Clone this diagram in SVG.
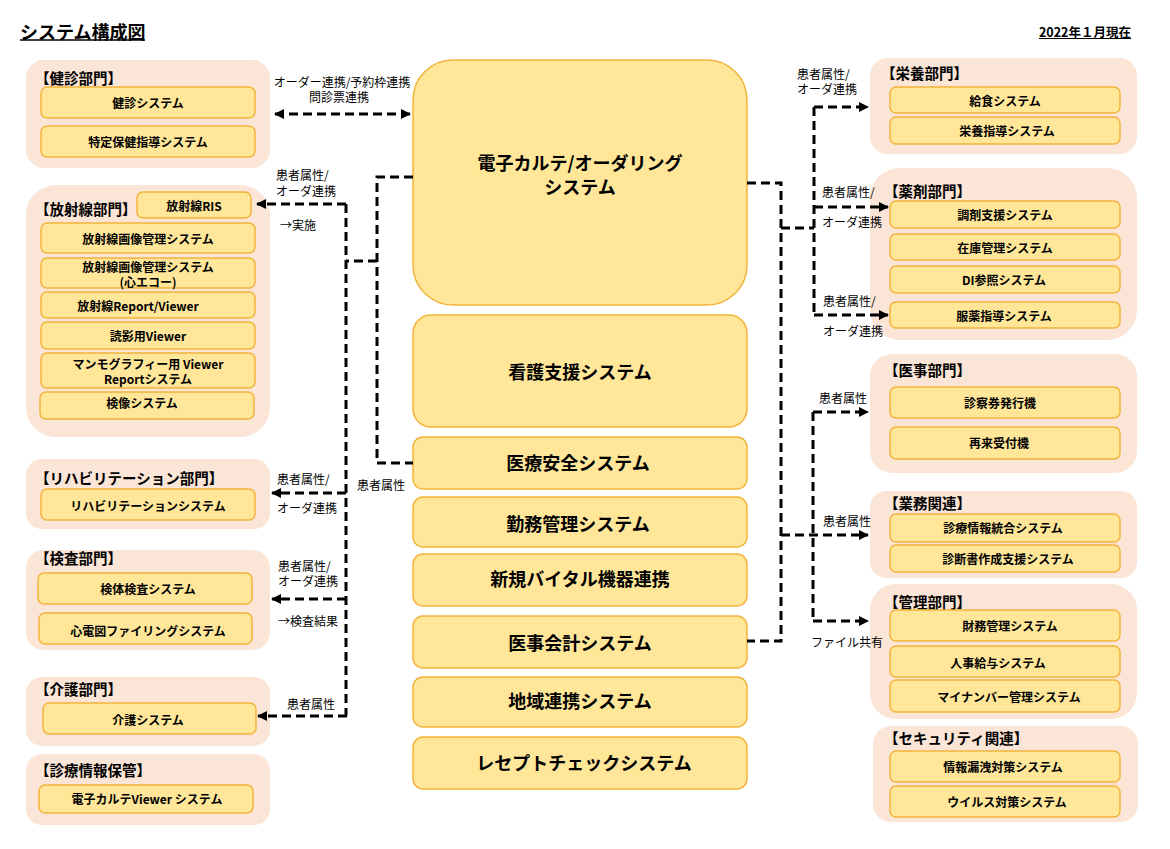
<svg xmlns="http://www.w3.org/2000/svg" width="1170" height="849" viewBox="0 0 1170 849">
<style>
text{font-family:"Noto Sans CJK JP","Noto Sans",sans-serif;fill:#000}
.grp{fill:#fbe5d6}
.box{fill:#ffe699;stroke:#f2b43c;stroke-width:1.5}
.bt{font-size:12px;font-weight:bold;text-anchor:middle;dominant-baseline:central}
.ct{font-size:18px;font-weight:bold;text-anchor:middle;dominant-baseline:central}
.gl{font-size:14.5px;font-weight:bold;dominant-baseline:central}
.cl{font-size:12px;dominant-baseline:central}
.cn{fill:none;stroke:#000;stroke-width:3;stroke-dasharray:9 5}
.ar{marker-end:url(#ah)}
</style>
<defs>
<marker id="ah" viewBox="0 0 10 10" refX="9" refY="5" markerWidth="10" markerHeight="10" markerUnits="userSpaceOnUse" orient="auto-start-reverse">
<path d="M0,0 L10,5 L0,10 z" fill="#000"/>
</marker>
</defs>
<rect width="1170" height="849" fill="#fff"/>

<g id="title">
<text x="20" y="31" style="font-size:18px;font-weight:bold;dominant-baseline:central">システム構成図</text>
<line x1="20" y1="40" x2="145" y2="40" stroke="#000" stroke-width="1.5"/>
<text x="1131" y="31" style="font-size:12.5px;font-weight:bold;text-anchor:end;dominant-baseline:central">2022年１月現在</text>
<line x1="1039" y1="38.5" x2="1131" y2="38.5" stroke="#000" stroke-width="1"/>
</g>

<!-- Left groups -->
<g id="g-kenshin">
<rect class="grp" x="26" y="60" width="244" height="108" rx="18"/>
<text class="gl" x="35" y="77">【健診部門】</text>
<rect class="box" x="41" y="87" width="214" height="31" rx="6"/>
<text class="bt" x="148" y="102.5">健診システム</text>
<rect class="box" x="41" y="126" width="214" height="31" rx="6"/>
<text class="bt" x="148" y="141.5">特定保健指導システム</text>
</g>

<g id="g-housha">
<rect class="grp" x="26" y="185" width="244" height="252" rx="30"/>
<text class="gl" x="35" y="208">【放射線部門】</text>
<rect class="box" x="137" y="192" width="114" height="26" rx="6"/>
<text class="bt" x="194" y="205">放射線RIS</text>
<rect class="box" x="41" y="223" width="214" height="30" rx="6"/>
<text class="bt" x="148" y="238">放射線画像管理システム</text>
<rect class="box" x="41" y="258" width="214" height="30" rx="6"/>
<text class="bt" x="148" y="266">放射線画像管理システム</text>
<text class="bt" x="148" y="281">(心エコー)</text>
<rect class="box" x="41" y="292" width="214" height="26" rx="6"/>
<text class="bt" x="138" y="305">放射線Report/Viewer</text>
<rect class="box" x="41" y="322" width="214" height="27" rx="6"/>
<text class="bt" x="148" y="335">読影用Viewer</text>
<rect class="box" x="41" y="353" width="214" height="35" rx="6"/>
<text class="bt" x="148" y="363">マンモグラフィー用 Viewer</text>
<text class="bt" x="148" y="378">Reportシステム</text>
<rect class="box" x="40" y="392" width="214" height="27" rx="6"/>
<text class="bt" x="142" y="402">検像システム</text>
</g>

<g id="g-reha">
<rect class="grp" x="26" y="459" width="244" height="70" rx="16"/>
<text class="gl" x="35" y="477">【リハビリテーション部門】</text>
<rect class="box" x="41" y="489" width="214" height="31" rx="6"/>
<text class="bt" x="148" y="505">リハビリテーションシステム</text>
</g>

<g id="g-kensa">
<rect class="grp" x="26" y="550" width="244" height="100" rx="18"/>
<text class="gl" x="35" y="557">【検査部門】</text>
<rect class="box" x="38" y="573" width="214" height="31" rx="6"/>
<text class="bt" x="148" y="588">検体検査システム</text>
<rect class="box" x="39" y="613" width="213" height="31" rx="6"/>
<text class="bt" x="148" y="630">心電図ファイリングシステム</text>
</g>

<g id="g-kaigo">
<rect class="grp" x="26" y="677" width="244" height="69" rx="16"/>
<text class="gl" x="35" y="688">【介護部門】</text>
<rect class="box" x="43" y="703" width="213" height="31" rx="6"/>
<text class="bt" x="148" y="719">介護システム</text>
</g>

<g id="g-hokan">
<rect class="grp" x="26" y="754" width="244" height="71" rx="16"/>
<text class="gl" x="35" y="769">【診療情報保管】</text>
<rect class="box" x="39" y="785" width="214" height="28" rx="6"/>
<text class="bt" x="147" y="798">電子カルテViewer システム</text>
</g>

<!-- Center -->
<g id="n-karte">
<rect class="box" x="413" y="60" width="334" height="245" rx="40"/>
<text class="ct" x="580" y="162">電子カルテ/オーダリング</text>
<text class="ct" x="580" y="186">システム</text>
</g>
<g id="n-kango">
<rect class="box" x="413" y="315" width="334" height="112" rx="18"/>
<text class="ct" x="580" y="371">看護支援システム</text>
</g>
<g id="n-anzen">
<rect class="box" x="413" y="437" width="334" height="52" rx="10"/>
<text class="ct" x="578" y="462">医療安全システム</text>
</g>
<g id="n-kinmu">
<rect class="box" x="413" y="497" width="334" height="50" rx="10"/>
<text class="ct" x="578" y="523">勤務管理システム</text>
</g>
<g id="n-vital">
<rect class="box" x="413" y="554" width="334" height="52" rx="10"/>
<text class="ct" x="580" y="578">新規バイタル機器連携</text>
</g>
<g id="n-kaikei">
<rect class="box" x="413" y="616" width="334" height="52" rx="10"/>
<text class="ct" x="580" y="642">医事会計システム</text>
</g>
<g id="n-chiiki">
<rect class="box" x="413" y="677" width="334" height="50" rx="10"/>
<text class="ct" x="580" y="700">地域連携システム</text>
</g>
<g id="n-rezept">
<rect class="box" x="413" y="737" width="334" height="52" rx="10"/>
<text class="ct" x="584" y="762">レセプトチェックシステム</text>
</g>

<!-- Right groups -->
<g id="g-eiyou">
<rect class="grp" x="870" y="58" width="267" height="96" rx="18"/>
<text class="gl" x="881" y="72">【栄養部門】</text>
<rect class="box" x="890" y="87" width="230" height="26" rx="6"/>
<text class="bt" x="1005" y="100">給食システム</text>
<rect class="box" x="890" y="117" width="230" height="27" rx="6"/>
<text class="bt" x="1007" y="130">栄養指導システム</text>
</g>

<g id="g-yakuzai">
<rect class="grp" x="870" y="168" width="267" height="172" rx="30"/>
<text class="gl" x="884" y="190">【薬剤部門】</text>
<rect class="box" x="890" y="201" width="230" height="27" rx="6"/>
<text class="bt" x="1005" y="214">調剤支援システム</text>
<rect class="box" x="890" y="234" width="230" height="26" rx="6"/>
<text class="bt" x="1005" y="247">在庫管理システム</text>
<rect class="box" x="890" y="266" width="230" height="27" rx="6"/>
<text class="bt" x="1004" y="279">DI参照システム</text>
<rect class="box" x="890" y="302" width="230" height="26" rx="6"/>
<text class="bt" x="1004" y="315">服薬指導システム</text>
</g>

<g id="g-iji">
<rect class="grp" x="870" y="354" width="267" height="119" rx="22"/>
<text class="gl" x="884" y="369">【医事部門】</text>
<rect class="box" x="890" y="387" width="230" height="31" rx="6"/>
<text class="bt" x="1000" y="402">診察券発行機</text>
<rect class="box" x="890" y="427" width="230" height="32" rx="6"/>
<text class="bt" x="999" y="442">再来受付機</text>
</g>

<g id="g-gyomu">
<rect class="grp" x="870" y="491" width="267" height="87" rx="16"/>
<text class="gl" x="884" y="502">【業務関連】</text>
<rect class="box" x="890" y="514" width="230" height="28" rx="6"/>
<text class="bt" x="1003" y="527">診療情報統合システム</text>
<rect class="box" x="890" y="545" width="230" height="27" rx="6"/>
<text class="bt" x="1008" y="558">診断書作成支援システム</text>
</g>

<g id="g-kanri">
<rect class="grp" x="870" y="584" width="267" height="135" rx="26"/>
<text class="gl" x="884" y="601">【管理部門】</text>
<rect class="box" x="890" y="610" width="230" height="31" rx="6"/>
<text class="bt" x="1010" y="625">財務管理システム</text>
<rect class="box" x="890" y="646" width="230" height="31" rx="6"/>
<text class="bt" x="998" y="662">人事給与システム</text>
<rect class="box" x="890" y="680" width="230" height="32" rx="6"/>
<text class="bt" x="1009" y="696">マイナンバー管理システム</text>
</g>

<g id="g-security">
<rect class="grp" x="873" y="726" width="265" height="96" rx="18"/>
<text class="gl" x="884" y="737">【セキュリティ関連】</text>
<rect class="box" x="890" y="751" width="230" height="31" rx="6"/>
<text class="bt" x="1003" y="766">情報漏洩対策システム</text>
<rect class="box" x="890" y="786" width="230" height="31" rx="6"/>
<text class="bt" x="1007" y="801">ウイルス対策システム</text>
</g>

<!-- Connectors -->
<g id="connectors">
<path class="cn" d="M275 114 H410" marker-start="url(#ah)" marker-end="url(#ah)"/>
<path class="cn" d="M413 177 H377 V463 H413"/>
<path class="cn" d="M377 261 H346"/>
<path class="cn" d="M346 204 V716"/>
<path class="cn ar" d="M346 204 H257"/>
<path class="cn ar" d="M346 493 H272"/>
<path class="cn ar" d="M346 599 H272"/>
<path class="cn ar" d="M347 716 H258"/>

<path class="cn" d="M747 183 H781 V641 H747"/>
<path class="cn" d="M781 228 H814"/>
<path class="cn" d="M814 107 V315"/>
<path class="cn ar" d="M814 107 H868"/>
<path class="cn ar" d="M814 207 H888"/>
<path class="cn ar" d="M814 315 H888"/>
<path class="cn ar" d="M781 535 H868"/>
<path class="cn" d="M813 412 V621"/>
<path class="cn ar" d="M813 412 H868"/>
<path class="cn ar" d="M813 621 H868"/>

<text class="cl" x="342" y="81" text-anchor="middle">オーダー連携/予約枠連携</text>
<text class="cl" x="339" y="96" text-anchor="middle">問診票連携</text>
<text class="cl" x="276" y="174">患者属性/</text>
<text class="cl" x="276" y="190">オーダ連携</text>
<text class="cl" x="280" y="224">→実施</text>
<text class="cl" x="277" y="478">患者属性/</text>
<text class="cl" x="277" y="507">オーダ連携</text>
<text class="cl" x="357" y="484">患者属性</text>
<text class="cl" x="278" y="565">患者属性/</text>
<text class="cl" x="278" y="580">オーダ連携</text>
<text class="cl" x="278" y="620">→検査結果</text>
<text class="cl" x="287" y="703">患者属性</text>

<text class="cl" x="797" y="73">患者属性/</text>
<text class="cl" x="797" y="88">オーダ連携</text>
<text class="cl" x="822" y="191">患者属性/</text>
<text class="cl" x="822" y="221">オーダ連携</text>
<text class="cl" x="823" y="300">患者属性/</text>
<text class="cl" x="823" y="330">オーダ連携</text>
<text class="cl" x="819" y="397">患者属性</text>
<text class="cl" x="823" y="520">患者属性</text>
<text class="cl" x="811" y="641">ファイル共有</text>
</g>
</svg>
